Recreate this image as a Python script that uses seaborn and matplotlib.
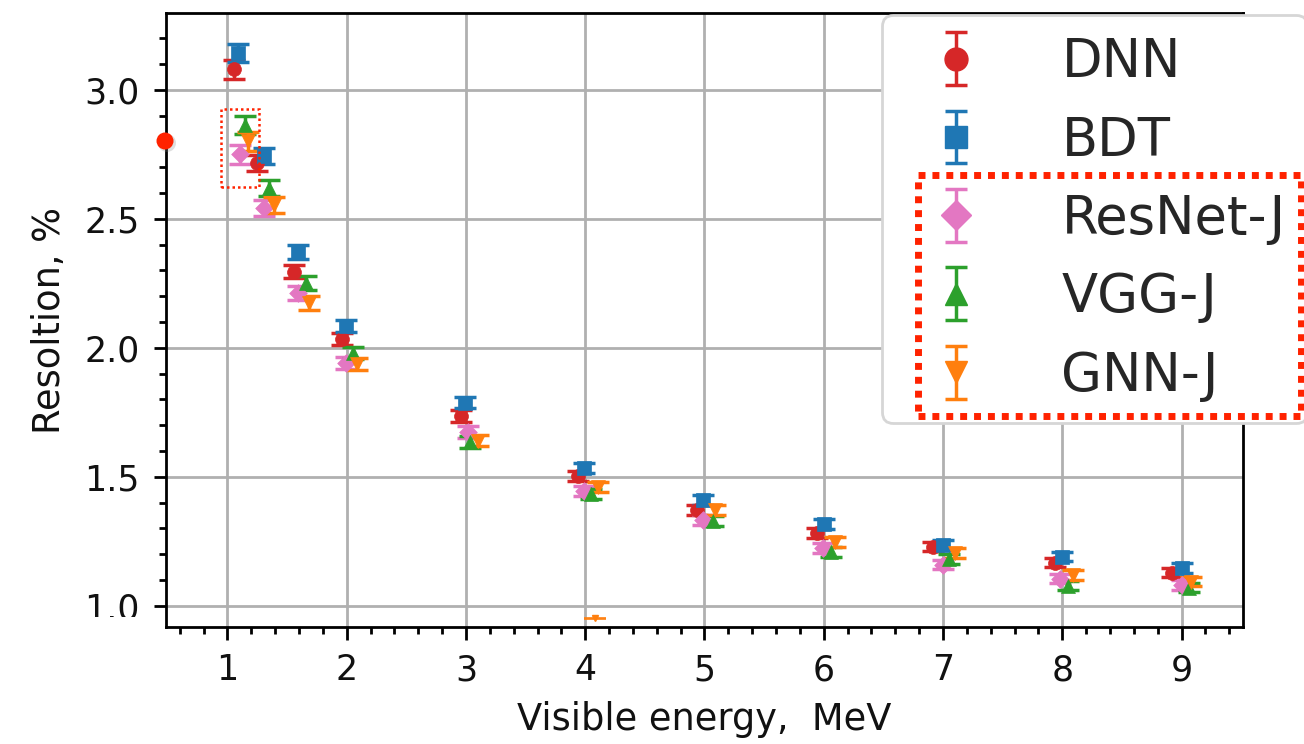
import numpy as np
import pandas as pd
import matplotlib
matplotlib.use("Agg")
import matplotlib.pyplot as plt
import seaborn as sns
from matplotlib.patches import Rectangle, Circle
from matplotlib.ticker import MultipleLocator

# ---------------- data ----------------
series_names = ["DNN", "BDT", "ResNet-J", "VGG-J", "GNN-J"]
dnn_x = [1.055, 1.247, 1.557, 1.96, 2.96, 3.94, 4.94, 5.94, 6.92, 7.94, 8.92]
dnn_y = [3.08, 2.717, 2.295, 2.035, 1.736, 1.504, 1.372, 1.283, 1.229, 1.167, 1.128]
bdt_x = [1.088, 1.306, 1.59, 1.995, 2.99, 3.99, 4.99, 6.0, 7.0, 8.0, 9.0]
bdt_y = [3.143, 2.744, 2.372, 2.085, 1.787, 1.535, 1.411, 1.318, 1.236, 1.19, 1.147]
resnet_x = [1.105, 1.306, 1.59, 1.995, 3.02, 3.99, 4.99, 5.99, 7.0, 7.98, 9.0]
resnet_y = [2.75, 2.543, 2.213, 1.942, 1.674, 1.446, 1.333, 1.225, 1.159, 1.105, 1.081]
vgg_x = [1.147, 1.348, 1.658, 2.052, 3.03, 4.05, 5.07, 6.06, 7.05, 8.05, 9.06]
vgg_y = [2.864, 2.62, 2.252, 1.981, 1.635, 1.434, 1.33, 1.21, 1.182, 1.078, 1.07]
gnn_x = [1.17, 1.39, 1.683, 2.085, 3.10, 4.11, 5.09, 6.09, 7.10, 8.09, 9.08]
gnn_y = [2.80, 2.554, 2.174, 1.938, 1.64, 1.461, 1.372, 1.248, 1.205, 1.12, 1.093]
res_err = [0.036, 0.03, 0.026, 0.024, 0.022, 0.02, 0.02, 0.02, 0.018, 0.018, 0.018]
gnn_stray_x = [4.08]
gnn_stray_y = [0.952]

x_ticks = [1, 2, 3, 4, 5, 6, 7, 8, 9]
y_ticks = [1.0, 1.5, 2.0, 2.5, 3.0]
x_label = "Visible energy,  MeV"
y_label = "Resoltion, %"

colors = ["#d62728", "#1f77b4", "#e377c2", "#2ca02c", "#ff7f0e"]
markers = ["o", "s", "D", "^", "v"]
msizes = [10, 10, 9, 10, 10]

xs = [dnn_x, bdt_x, resnet_x, vgg_x, gnn_x]
ys = [dnn_y, bdt_y, resnet_y, vgg_y, gnn_y]

# ---------------- style ----------------
sns.set_theme(style="ticks")
plt.rcParams["font.family"] = ["DejaVu Sans"]

W, H = 1304, 744
fig = plt.figure(figsize=(W / 100, H / 100), dpi=100)
L, R, T, B = 166, 1243, 13, 627
ax = fig.add_axes([L / W, 1 - B / H, (R - L) / W, (B - T) / H])

handles = []
for name, x, y, c, m, ms in zip(series_names, xs, ys, colors, markers, msizes):
    ax.errorbar(x, y, yerr=res_err, fmt="none", ecolor=c, elinewidth=2.5,
                capsize=8, capthick=2.5, zorder=3)
    df = pd.DataFrame({"x": x, "y": y})
    sns.scatterplot(data=df, x="x", y="y", marker=m, color=c, s=ms ** 2,
                    edgecolor=c, linewidth=0.5, ax=ax, zorder=4, legend=False)
    h = ax.errorbar([np.nan], [np.nan], yerr=[np.nan], fmt=m, color=c,
                    markersize=ms, elinewidth=2.5, capsize=8, capthick=2.5,
                    label=name)
    handles.append(h)

# tiny stray orange mark near the bottom
ax.errorbar(gnn_stray_x, gnn_stray_y, yerr=[0.002], fmt="v", color=colors[4],
            markersize=4, elinewidth=1, capsize=8, capthick=1.2, zorder=3)

ax.set_xlim(0.485, 9.515)
ax.set_ylim(0.918, 3.298)
ax.set_xticks(x_ticks)
ax.set_yticks(y_ticks)
ax.xaxis.set_minor_locator(MultipleLocator(0.2))
ax.yaxis.set_minor_locator(MultipleLocator(0.1))
ax.set_xticklabels([str(v) for v in x_ticks])
ax.set_yticklabels([f"{v:.1f}" for v in y_ticks])
ax.grid(True, which="major", color="#b0b0b0", linewidth=2)
ax.set_axisbelow(True)
ax.tick_params(which="major", length=9, width=2, labelsize=25, pad=10,
               color="black", labelcolor="#111111")
ax.tick_params(which="minor", length=5, width=2, color="black")
for s in ax.spines.values():
    s.set_color("black")
    s.set_linewidth(2)

ax.set_xlabel(x_label, fontsize=26.5, labelpad=10, color="#111111")
ax.set_ylabel(y_label, fontsize=26.5, labelpad=12, color="#111111")

leg = ax.legend(handles=handles, labels=series_names, loc="upper left",
                bbox_to_anchor=(882 / W, 1 - 15 / H), bbox_transform=fig.transFigure,
                fontsize=38, markerscale=1.65, borderpad=0.4, labelspacing=0.5,
                handlelength=2, handletextpad=1.0, framealpha=1, edgecolor="0.84",
                borderaxespad=0, fancybox=True)
leg.get_frame().set_linewidth(2)
leg.set_zorder(10)

# ---------------- annotations (pixel coords -> inches) ----------------
def px(xp, yp):
    return xp / 100, (H - yp) / 100

# clip the bottom of the "1.0" tick label
fig.add_artist(Rectangle(px(60, 650), 0.9, (650 - 617) / 100, transform=fig.dpi_scale_trans,
                         facecolor="white", edgecolor="none", zorder=20))

# red dot on left spine (with a soft shadow)
fig.add_artist(Circle(px(167, 143), 0.09, transform=fig.dpi_scale_trans,
                      facecolor="0.5", alpha=0.25, edgecolor="none", zorder=21))
fig.add_artist(Circle(px(165, 141), 0.085, transform=fig.dpi_scale_trans,
                      facecolor="#ff2200", edgecolor="none", zorder=22))

# small dotted box around the 1.1 MeV cluster
x0, y0 = px(221, 187)
fig.add_artist(Rectangle((x0, y0), (259 - 221) / 100, (187 - 109) / 100,
                         transform=fig.dpi_scale_trans, fill=False,
                         edgecolor="#ff2200", linewidth=1.8,
                         linestyle=(0, (1, 1.2)), zorder=22))

# big dotted box around the joint-model legend entries
x0, y0 = px(918, 416)
fig.add_artist(Rectangle((x0, y0), (1301 - 918) / 100, (416 - 175) / 100,
                         transform=fig.dpi_scale_trans, fill=False,
                         edgecolor="#ff2200", linewidth=5,
                         linestyle=(0, (1, 1)), zorder=22))

fig.savefig("out.png", dpi=100)
